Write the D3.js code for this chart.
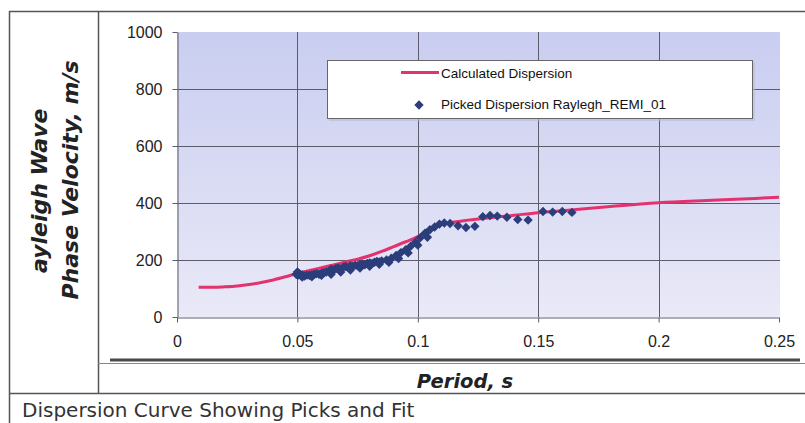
<!DOCTYPE html>
<html>
<head>
<meta charset="utf-8">
<script src="https://cdnjs.cloudflare.com/ajax/libs/d3/7.8.5/d3.min.js"></script>
<style>
  body { margin: 0; background: #fff; }
  svg { display: block; }
  .tick text { font-family: "Liberation Sans", Arial, sans-serif; font-size: 16px; fill: #222; }
</style>
</head>
<body>
<div id="chart"></div>
<script>
var width = 805,
    height = 423;

// Calculated dispersion curve
const calcPeriod   = [0.009, 0.015, 0.02, 0.025, 0.03, 0.035, 0.04, 0.045, 0.05, 0.055, 0.06, 0.065, 0.07, 0.075, 0.08, 0.085, 0.09, 0.095, 0.1, 0.105, 0.11, 0.115, 0.12, 0.125, 0.13, 0.14, 0.15, 0.16, 0.18, 0.2, 0.22, 0.24, 0.25];
const calcVelocity = [104, 104, 106, 109, 114, 121, 130, 141, 153, 163, 173, 183, 193, 203, 215, 230, 247, 264, 282, 305, 325, 333, 339, 344, 348, 357, 366, 373, 388, 401, 409, 416, 420];

// Picked dispersion points
const pickPeriod = [0.0495, 0.05, 0.0502, 0.0505, 0.051, 0.0515, 0.052, 0.053, 0.054, 0.055, 0.056, 0.057, 0.058, 0.059, 0.06,
  0.061, 0.062, 0.063, 0.064, 0.065, 0.066, 0.067, 0.068, 0.069, 0.07, 0.071, 0.072, 0.073, 0.074, 0.075,
  0.076, 0.077, 0.078, 0.079, 0.08, 0.081, 0.082, 0.083, 0.084, 0.085, 0.087, 0.089, 0.091, 0.093, 0.095,
  0.097, 0.099, 0.101, 0.103, 0.105, 0.107, 0.109, 0.111, 0.1134, 0.1167, 0.12, 0.1237, 0.127, 0.13, 0.133,
  0.137, 0.1415, 0.1458, 0.152, 0.156, 0.16, 0.164,
  0.052, 0.056, 0.06, 0.064, 0.068, 0.072, 0.076, 0.08, 0.084, 0.088, 0.092, 0.096, 0.1, 0.104];
const pickVelocity = [150, 158, 146, 154, 150, 145, 148, 144, 147, 146, 148, 150, 152, 150, 154,
  156, 158, 160, 168, 164, 170, 172, 168, 175, 177, 174, 180, 178, 182, 180,
  184, 186, 183, 188, 190, 188, 192, 195, 193, 197, 200, 206, 216, 226, 236,
  248, 262, 278, 294, 306, 316, 326, 330, 328, 320, 314, 318, 352, 356, 354,
  350, 342, 340, 370, 368, 370, 367,
  140, 141, 146, 150, 158, 165, 172, 178, 185, 192, 205, 225, 252, 280];

const xTicks = [0, 0.05, 0.1, 0.15, 0.2, 0.25];
const yTicks = [0, 200, 400, 600, 800, 1000];
const legendLabels = ['Calculated Dispersion', 'Picked Dispersion Raylegh_REMI_01'];

const pink = '#e3336f',
      navy = '#2b3d7a';

var svg = d3.select('#chart').append('svg')
    .attr('width', width)
    .attr('height', height);

var x = d3.scaleLinear().domain([0, 0.25]).range([177, 779]);
var y = d3.scaleLinear().domain([0, 1000]).range([317, 32]);

// frame lines
const frame = svg.append('g').attr('stroke', '#555').attr('fill', 'none');
frame.append('line').attr('x1', 9).attr('x2', 805).attr('y1', 11.5).attr('y2', 11.5).attr('stroke-width', 1.5);
frame.append('line').attr('x1', 9.5).attr('x2', 9.5).attr('y1', 11).attr('y2', 423).attr('stroke-width', 1.5);
frame.append('line').attr('x1', 98.5).attr('x2', 98.5).attr('y1', 11).attr('y2', 393).attr('stroke-width', 1.5);
frame.append('line').attr('x1', 110).attr('x2', 800).attr('y1', 360).attr('y2', 360).attr('stroke-width', 3).attr('stroke', '#4a4a4a');
frame.append('line').attr('x1', 98).attr('x2', 805).attr('y1', 363.5).attr('y2', 363.5).attr('stroke-width', 1).attr('stroke', '#888');
frame.append('line').attr('x1', 9).attr('x2', 805).attr('y1', 393.5).attr('y2', 393.5).attr('stroke-width', 1.5);

// plot background
const grad = svg.append('defs').append('linearGradient')
    .attr('id', 'bg').attr('x1', 0).attr('y1', 0).attr('x2', 0).attr('y2', 1);
grad.append('stop').attr('offset', '0%').attr('stop-color', '#c9cdf0');
grad.append('stop').attr('offset', '100%').attr('stop-color', '#e9e9f7');

svg.append('rect')
    .attr('x', x(0)).attr('y', y(1000))
    .attr('width', 780 - x(0)).attr('height', y(0) - y(1000))
    .attr('fill', 'url(#bg)');

// grid
svg.append('g').selectAll('line.hg')
    .data(yTicks.filter(d => d > 0 && d < 1000))
    .enter().append('line')
    .attr('x1', x(0)).attr('x2', 780)
    .attr('y1', d => Math.round(y(d)) + 0.5).attr('y2', d => Math.round(y(d)) + 0.5)
    .attr('stroke', '#5c5c6a').attr('stroke-width', 1);

svg.append('g').selectAll('line.vg')
    .data(xTicks.filter(d => d > 0 && d < 0.25))
    .enter().append('line')
    .attr('x1', d => Math.round(x(d)) + 0.5).attr('x2', d => Math.round(x(d)) + 0.5)
    .attr('y1', y(1000)).attr('y2', y(0))
    .attr('stroke', '#5c5c6a').attr('stroke-width', 1);

// axes
const xAxis = svg.append('g')
    .attr('transform', `translate(0,${Math.round(y(0)) + 0.5})`)
    .call(d3.axisBottom(x).tickValues(xTicks).tickSize(5).tickSizeOuter(0).tickPadding(13)
        .tickFormat(d => d === 0 ? '0' : String(d)));
xAxis.select('.domain').attr('stroke', '#5c5c6a');
xAxis.selectAll('.tick line').attr('stroke', '#5c5c6a');

const yAxis = svg.append('g')
    .attr('transform', `translate(${Math.round(x(0)) + 0.5},0)`)
    .call(d3.axisLeft(y).tickValues(yTicks).tickSize(5).tickSizeOuter(0).tickPadding(10)
        .tickFormat(d3.format('d')));
yAxis.select('.domain').attr('stroke', '#5c5c6a');
yAxis.selectAll('.tick line').attr('stroke', '#5c5c6a');

// calculated curve
const line = d3.line()
    .x(d => x(d[0]))
    .y(d => y(d[1]))
    .curve(d3.curveMonotoneX);

svg.append('path')
    .datum(calcPeriod.map((p, i) => [p, calcVelocity[i]]))
    .attr('d', line)
    .attr('fill', 'none')
    .attr('stroke', pink)
    .attr('stroke-width', 3);

// picked points
const diamond = d3.symbol().type(d3.symbolDiamond2).size(56);
svg.append('g').selectAll('path.pick')
    .data(pickPeriod.map((p, i) => [p, pickVelocity[i]]))
    .enter().append('path')
    .attr('class', 'pick')
    .attr('d', diamond)
    .attr('transform', d => `translate(${x(d[0])},${y(d[1])})`)
    .attr('fill', navy);

// legend
const legend = svg.append('g');
legend.append('rect')
    .attr('x', 329).attr('y', 62).attr('width', 426).attr('height', 59)
    .attr('fill', '#b8bbd8').attr('opacity', 0.6);
legend.append('rect')
    .attr('x', 327.5).attr('y', 60.5).attr('width', 425).attr('height', 58)
    .attr('fill', '#fff').attr('stroke', '#666').attr('stroke-width', 1);
legend.append('line')
    .attr('x1', 401).attr('x2', 439).attr('y1', 72.5).attr('y2', 72.5)
    .attr('stroke', pink).attr('stroke-width', 3);
legend.append('path')
    .attr('d', diamond)
    .attr('transform', 'translate(419,105)')
    .attr('fill', navy);
legend.selectAll('text')
    .data(legendLabels)
    .enter().append('text')
    .attr('x', 441)
    .attr('y', (d, i) => i === 0 ? 78 : 109)
    .attr('font-family', '"Liberation Sans", Arial, sans-serif')
    .attr('font-size', 13.5)
    .attr('fill', '#111')
    .text(d => d);

// axis titles
const titleFont = '"DejaVu Sans", sans-serif';
svg.append('text')
    .attr('transform', 'translate(47,273) rotate(-90)')
    .attr('font-family', titleFont).attr('font-weight', 'bold').attr('font-style', 'italic')
    .attr('font-size', 22).attr('fill', '#222')
    .text('ayleigh Wave');
svg.append('text')
    .attr('transform', 'translate(78,180) rotate(-90)')
    .attr('text-anchor', 'middle')
    .attr('font-family', titleFont).attr('font-weight', 'bold').attr('font-style', 'italic')
    .attr('font-size', 22).attr('fill', '#222')
    .text('Phase Velocity, m/s');
svg.append('text')
    .attr('x', 465).attr('y', 388)
    .attr('text-anchor', 'middle')
    .attr('font-family', titleFont).attr('font-weight', 'bold').attr('font-style', 'italic')
    .attr('font-size', 19.5).attr('fill', '#222')
    .text('Period, s');

// caption
svg.append('text')
    .attr('x', 22).attr('y', 417)
    .attr('font-family', titleFont)
    .attr('font-size', 20).attr('fill', '#333')
    .text('Dispersion Curve Showing Picks and Fit');
</script>
</body>
</html>
